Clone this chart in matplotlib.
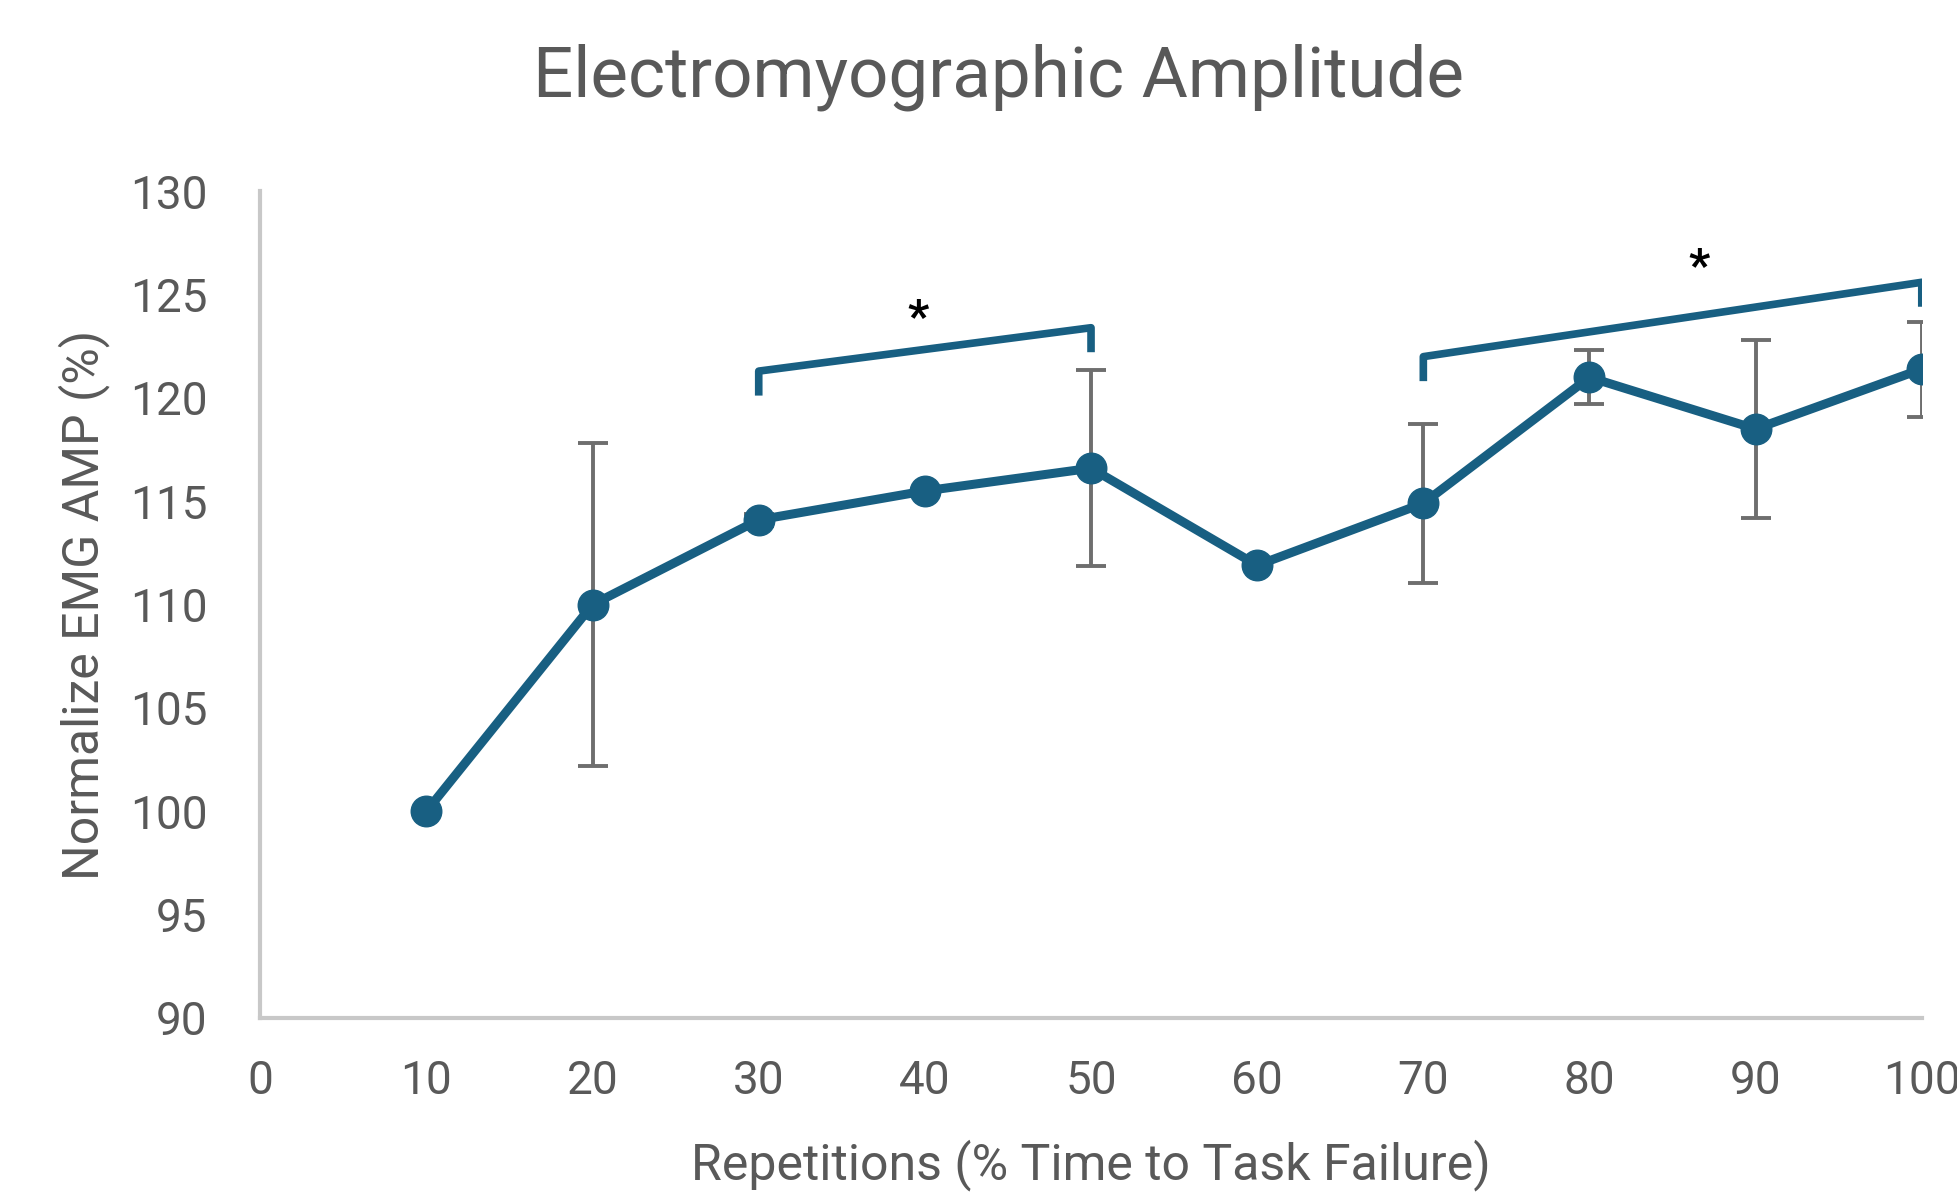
import matplotlib.pyplot as plt

# Data
reps = [10, 20, 30, 40, 50, 60, 70, 80, 90, 100]
emg_amp = [100.0, 110.0, 114.1, 115.5, 116.6, 111.9, 114.9, 121.0, 118.5, 121.4]
emg_err = [0.0, 7.8, 0.3, 0.0, 4.75, 0.0, 3.85, 1.3, 4.3, 2.3]

# significance brackets: (x0, x1, y0 corner, y1 corner, drop), star position
bracket_x = [(30, 50), (70, 100)]
bracket_y = [(121.3, 123.4), (122.0, 125.6)]
bracket_drop = 1.0
star_pos = [(39.6, 123.8), (86.6, 126.3)]

xticks = list(range(0, 101, 10))
yticks = list(range(90, 131, 5))

blue = '#185f82'
grey = '#595959'

plt.rcParams['font.family'] = ['Roboto', 'DejaVu Sans']

fig = plt.figure(figsize=(19.57, 11.96), dpi=100)
ax = fig.add_axes([0.133, 0.149, 0.849, 0.691])

ax.errorbar(reps, emg_amp, yerr=emg_err, fmt='none', ecolor='#6e6e6e',
            elinewidth=2.8, capsize=11, capthick=2.8, zorder=2)
ax.plot(reps, emg_amp, color=blue, lw=6.5, marker='o', ms=22, zorder=3)

# brackets
for (x0, x1), (y0, y1), (sx, sy) in zip(bracket_x, bracket_y, star_pos):
    ax.plot([x0, x0, x1, x1], [y0 - bracket_drop, y0, y1, y1 - bracket_drop],
            color=blue, lw=5.5, solid_joinstyle='round', zorder=3)
    ax.text(sx, sy, '*', ha='center', va='center', fontsize=34,
            fontweight='bold', color='black')

ax.set_xlim(0, 100)
ax.set_ylim(90, 130)
ax.set_xticks(xticks)
ax.set_yticks(yticks)
ax.tick_params(length=0, labelsize=33, labelcolor=grey)
ax.tick_params(axis='x', pad=30)
ax.tick_params(axis='y', pad=38)

for s in ['top', 'right']:
    ax.spines[s].set_visible(False)
for s in ['left', 'bottom']:
    ax.spines[s].set_color('#c8c8c8')
    ax.spines[s].set_linewidth(3)

ax.set_xlabel('Repetitions (% Time to Task Failure)', fontsize=36, color=grey, labelpad=26)
ax.set_ylabel('Normalize EMG AMP (%)', fontsize=36, color=grey, labelpad=14)
fig.text(0.51, 0.935, 'Electromyographic Amplitude', ha='center', va='center',
         fontsize=51, color=grey)

fig.savefig('out.png', dpi=100)
